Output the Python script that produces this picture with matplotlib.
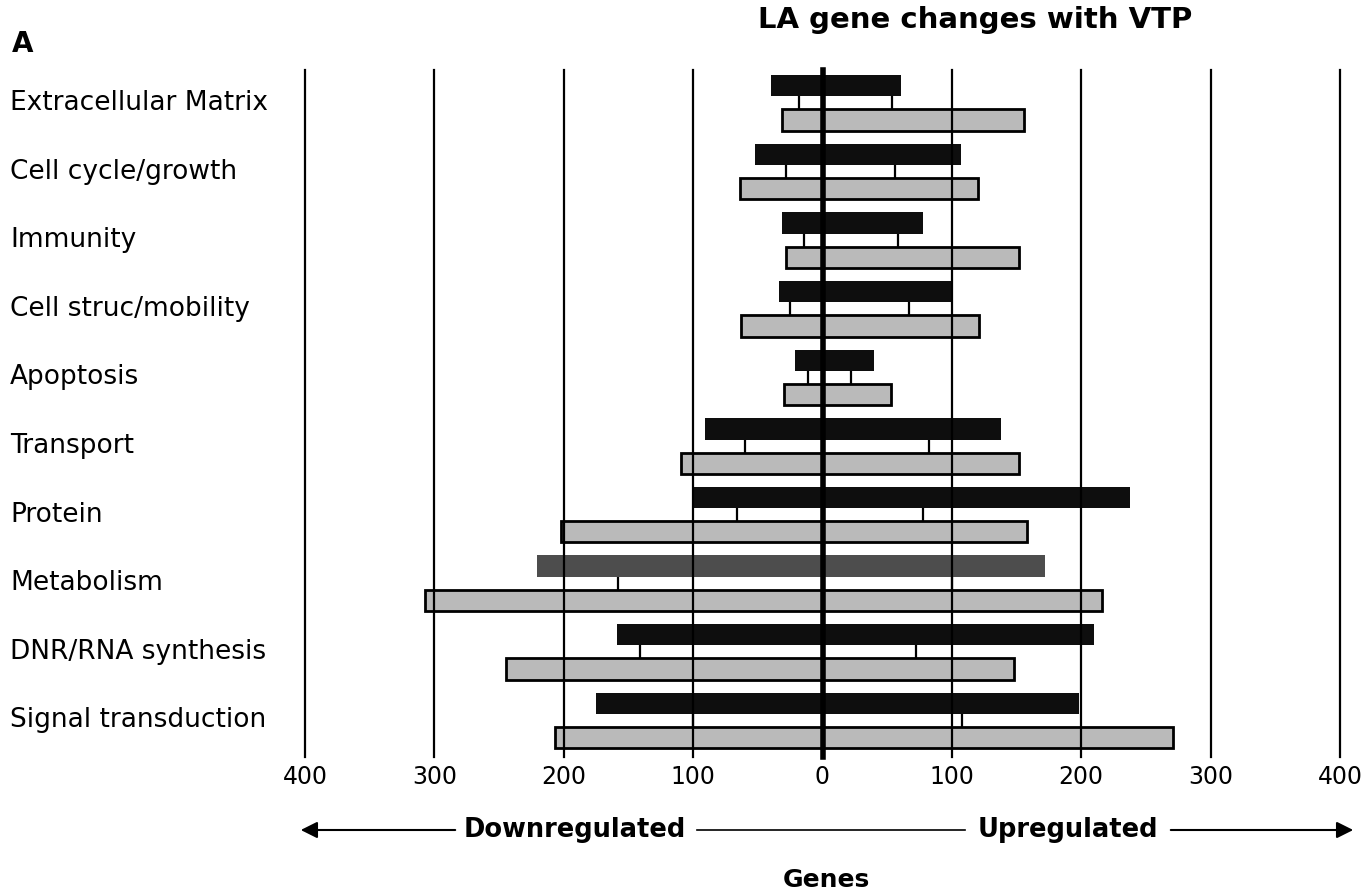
import matplotlib
matplotlib.use("Agg")
import matplotlib.pyplot as plt
import matplotlib.transforms as mtransforms
import numpy as np

plt.rcParams['font.family'] = ['DejaVu Sans']

categories = ["Extracellular Matrix", "Cell cycle/growth", "Immunity",
              "Cell struc/mobility", "Apoptosis", "Transport", "Protein",
              "Metabolism", "DNR/RNA synthesis", "Signal transduction"]

# genes (downregulated shown as negative extent, upregulated positive)
black_down = [40, 52, 31, 34, 21, 91, 101, 221, 159, 175]
black_up = [61, 107, 78, 100, 40, 138, 238, 172, 210, 198]
white_down = [18, 28, 14, 25, 11, 60, 66, 158, 141, 100]
white_up = [54, 56, 58, 67, 22, 82, 78, 100, 72, 108]
gray_down = [31, 64, 28, 63, 30, 109, 202, 307, 245, 207]
gray_up = [156, 120, 152, 121, 53, 152, 158, 216, 148, 271]

tick_values = [-400, -300, -200, -100, 0, 100, 200, 300, 400]
tick_labels = ["400", "300", "200", "100", "0", "100", "200", "300", "400"]

W, H = 1366, 893
fig = plt.figure(figsize=(W / 100, H / 100), dpi=100)
ax = fig.add_axes([305 / W, 1 - 750 / H, (1340 - 305) / W, (750 - 70) / H])

y = np.arange(len(categories))
h = 0.31
black_colors = ['#0e0e0e'] * len(categories)
black_colors[categories.index("Metabolism")] = '#4d4d4d'

bd = -np.array(black_down)
wd = -np.array(white_down)
gd = -np.array(gray_down)

ax.barh(y, np.array(white_up) - wd, left=wd, height=h, color='white',
        edgecolor='black', linewidth=1.6, zorder=1)
ax.barh(y - 0.25, np.array(black_up) - bd, left=bd, height=h,
        color=black_colors, edgecolor='none', zorder=2)
ax.barh(y + 0.25, np.array(gray_up) - gd, left=gd, height=h, color='#bababa',
        edgecolor='black', linewidth=2.0, zorder=2)

for v in tick_values:
    ax.axvline(v, ymin=-0.01, ymax=1.0, color='black',
               lw=4 if v == 0 else 1.6, zorder=4, clip_on=False)

ax.set_xlim(-400, 400)
ax.set_ylim(len(categories) - 1 + 0.43, -0.48)
for s in ax.spines.values():
    s.set_visible(False)
ax.set_yticks([])
ax.set_xticks(tick_values)
ax.set_xticklabels(tick_labels, fontsize=17)
ax.tick_params(axis='x', length=0, pad=11)

trans = mtransforms.blended_transform_factory(fig.transFigure, ax.transData)
for i, c in enumerate(categories):
    ax.text(10 / W, i, c, transform=trans, ha='left', va='center',
            fontsize=19, clip_on=False)

fig.text(975 / W, 1 - 20 / H, "LA gene changes with VTP", ha='center',
         va='center', fontsize=21, fontweight='bold')
fig.text(12 / W, 1 - 44 / H, "A", ha='left', va='center', fontsize=20,
         fontweight='bold')

# Downregulated / Upregulated arrows
ya = 1 - 830 / H
fig.text(575 / W, ya, "Downregulated", ha='center', va='center',
         fontsize=18.5, fontweight='bold')
fig.text(1068 / W, ya, "Upregulated", ha='center', va='center',
         fontsize=18.5, fontweight='bold')
fig.add_artist(matplotlib.patches.FancyArrowPatch(
    (458 / W, ya), (298 / W, ya), transform=fig.transFigure,
    arrowstyle='-|>', mutation_scale=25, color='black', lw=1.5))
fig.add_artist(matplotlib.patches.FancyArrowPatch(
    (1168 / W, ya), (1356 / W, ya), transform=fig.transFigure,
    arrowstyle='-|>', mutation_scale=25, color='black', lw=1.5))
fig.add_artist(matplotlib.lines.Line2D([697 / W, 965 / W], [ya, ya],
                                       transform=fig.transFigure,
                                       color='black', lw=1.2))

fig.text(826 / W, 1 - 880 / H, "Genes", ha='center', va='center',
         fontsize=18, fontweight='bold')

fig.savefig("out.png", dpi=100)
